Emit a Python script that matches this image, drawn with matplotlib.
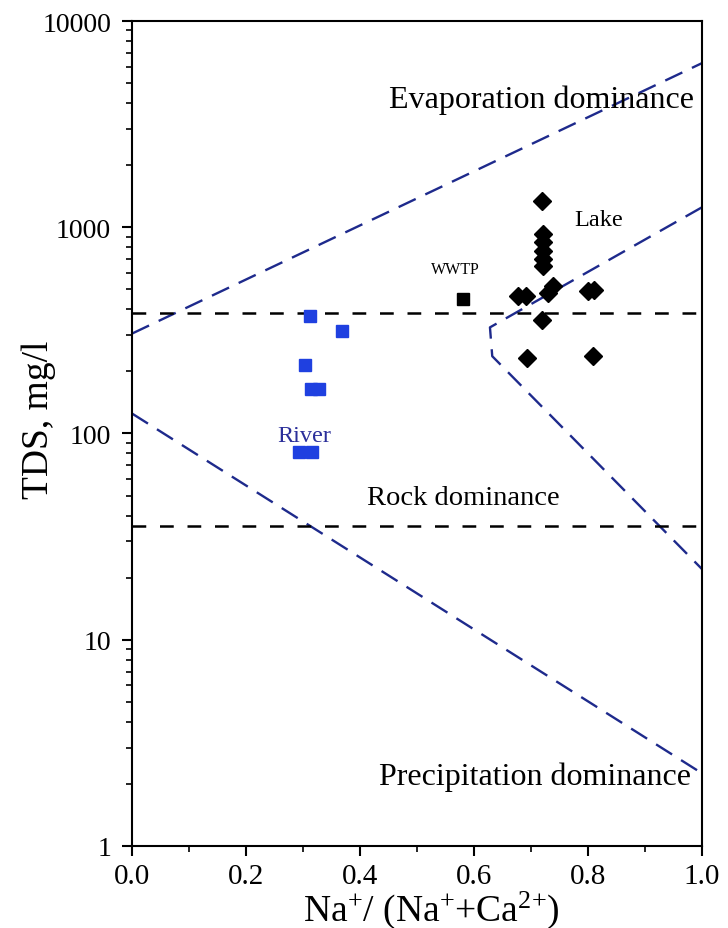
import numpy as np
import matplotlib
matplotlib.use("Agg")
import matplotlib.pyplot as plt
from matplotlib.ticker import FixedLocator, NullFormatter, FixedFormatter, LogLocator

# ---------------- data ----------------
river_x = [0.312, 0.369, 0.303, 0.314, 0.328, 0.293, 0.316]
river_tds = [370, 314, 216, 164, 164, 81, 81]

lake_x = [0.720, 0.721, 0.721, 0.721, 0.721, 0.721, 0.678, 0.692, 0.719, 0.739, 0.730,
          0.800, 0.810, 0.693, 0.809]
lake_tds = [1334, 925, 845, 764, 700, 646, 465, 465, 357, 519, 480,
            490, 495, 233, 237]

wwtp_x = [0.580]
wwtp_tds = [447]

# Gibbs boundary lines
evap_x = [0.0, 1.0]
evap_tds = [305, 6250]
prec_x = [0.0, 1.0]
prec_tds = [125, 2.25]
right_x = [1.0, 0.628, 0.632, 1.0]
right_tds = [1250, 327, 237, 22]

# rock dominance box limits
rock_upper = 383
rock_lower = 35.5

x_ticks = [0.0, 0.2, 0.4, 0.6, 0.8, 1.0]
x_ticklabels = ["0.0", "0.2", "0.4", "0.6", "0.8", "1.0"]
y_ticks = [1, 10, 100, 1000, 10000]
y_ticklabels = ["1", "10", "100", "1000", "10000"]

# ---------------- plot ----------------
plt.rcParams['font.family'] = ['Liberation Serif', 'DejaVu Serif']
plt.rcParams['mathtext.fontset'] = 'custom'
plt.rcParams['mathtext.rm'] = 'Liberation Serif'
plt.rcParams['mathtext.it'] = 'Liberation Serif:italic'

fig = plt.figure(figsize=(7.28, 9.29), dpi=100)
ax = fig.add_axes([0.1813, 0.0883, 0.7830, 0.8880])

ax.set_xscale('linear')
ax.set_yscale('log')
ax.set_xlim(0, 1)
ax.set_ylim(1, 10000)

navy = '#1e2a8c'
ax.plot(evap_x, evap_tds, color=navy, lw=1.7, dashes=(8, 4.5), zorder=2)
ax.plot(prec_x, prec_tds, color=navy, lw=1.7, dashes=(8, 4.5), zorder=2)
ax.plot(right_x, right_tds, color=navy, lw=1.7, dashes=(8, 4.5), zorder=2)

ax.plot([0, 1], [rock_upper, rock_upper], color='black', lw=1.8, dashes=(5.5, 5.5), zorder=2)
ax.plot([0, 1], [rock_lower, rock_lower], color='black', lw=1.8, dashes=(5.5, 5.5), zorder=2)

ax.plot(river_x, river_tds, linestyle='none', marker='s', ms=8.5, color='#1f40e0',
        mec='#1f40e0', zorder=3)
ax.plot(lake_x, lake_tds, linestyle='none', marker='D', ms=9.5, color='black', zorder=3)
ax.plot(wwtp_x, wwtp_tds, linestyle='none', marker='s', ms=8, color='black', zorder=3)

ax.text(0.719, 4180, "Evaporation dominance", fontsize=23, ha='center', va='center')
ax.text(0.818, 1094, "Lake", fontsize=17.5, ha='center', va='center')
ax.text(0.568, 625, "WWTP", fontsize=11.5, ha='center', va='center')
ax.text(0.303, 98, "River", fontsize=17.5, ha='center', va='center', color='#2b2f9a')
ax.text(0.581, 48.9, "Rock dominance", fontsize=20.5, ha='center', va='center')
ax.text(0.707, 2.19, "Precipitation dominance", fontsize=23, ha='center', va='center')

ax.xaxis.set_major_locator(FixedLocator(x_ticks))
ax.xaxis.set_major_formatter(FixedFormatter(x_ticklabels))
ax.xaxis.set_minor_locator(FixedLocator([0.1, 0.3, 0.5, 0.7, 0.9]))
ax.yaxis.set_major_locator(FixedLocator(y_ticks))
ax.yaxis.set_major_formatter(FixedFormatter(y_ticklabels))
ax.yaxis.set_minor_locator(LogLocator(base=10, subs=np.arange(2, 10)))
ax.yaxis.set_minor_formatter(NullFormatter())

ax.tick_params(axis='both', which='major', direction='out', length=7, width=1.5,
               labelsize=20, top=False, right=False)
ax.tick_params(axis='x', which='major', pad=5, labelsize=21)
ax.tick_params(axis='y', which='major', pad=8)
ax.tick_params(axis='both', which='minor', direction='out', length=4, width=1.2,
               top=False, right=False)
for s in ax.spines.values():
    s.set_linewidth(1.5)

ax.set_xlabel(r"Na$^{+}$/ (Na$^{+}$+Ca$^{2{+}}$)", fontsize=27)
ax.set_ylabel("TDS, mg/l", fontsize=27)
ax.xaxis.label.set_va('center')
ax.yaxis.label.set_va('center')
ax.xaxis.set_label_coords(0.525, -0.0765)
ax.yaxis.set_label_coords(-0.163, 0.5176)

fig.savefig("out.png", dpi=100)
